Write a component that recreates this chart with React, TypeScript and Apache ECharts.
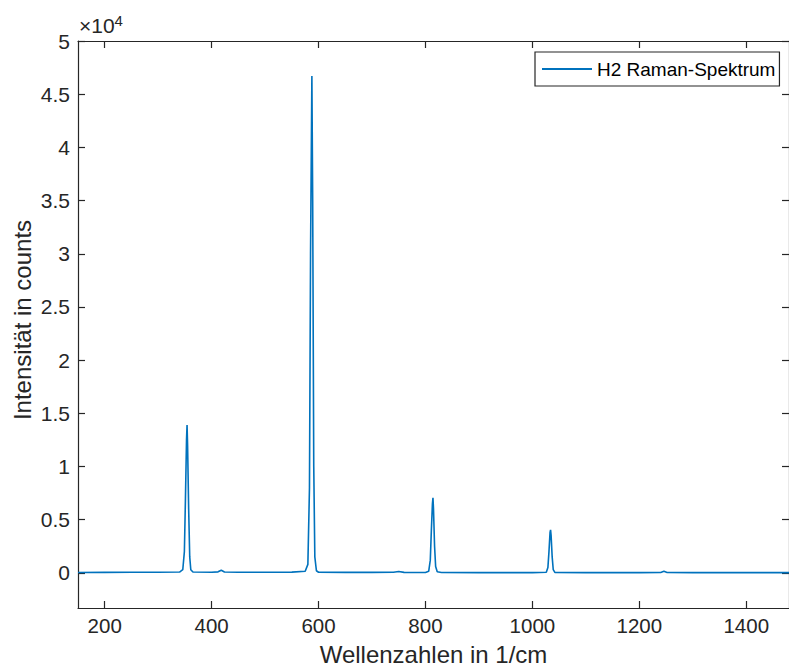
import React, { useEffect, useRef } from "react";
import * as echarts from "echarts";

// Raman spectrum of H2
const wavenumbers = [
  150, 200, 250, 300, 340, 346, 349, 351, 353, 354, 355, 357, 359, 361, 365,
  400, 412, 418, 424, 450, 500, 550, 575, 580, 583, 585, 587.5, 589, 591, 593, 596,
  600, 650, 700, 740, 750, 760, 800, 806, 809, 811, 813, 814, 815, 817, 819, 822,
  830, 900, 1000, 1026, 1029, 1031, 1033, 1034, 1035, 1037, 1039, 1042, 1100,
  1200, 1240, 1246, 1252, 1300, 1400, 1480,
];
const intensities = [
  40, 50, 60, 60, 80, 300, 2000, 7000, 12500, 13900, 12000, 6000, 1500, 300, 80,
  60, 100, 250, 90, 60, 60, 70, 150, 800, 8000, 30000, 46700, 35000, 10000, 1500, 200,
  60, 50, 50, 60, 130, 50, 40, 150, 1200, 4000, 6500, 7050, 6000, 2500, 600, 100,
  40, 30, 30, 60, 500, 2000, 3800, 4050, 3500, 1500, 300, 40, 30,
  30, 40, 150, 40, 30, 30, 30,
];
const xTicks = [200, 400, 600, 800, 1000, 1200, 1400];
const yTicks = [0, 5000, 10000, 15000, 20000, 25000, 30000, 35000, 40000, 45000, 50000];
const seriesName = "H2 Raman-Spektrum";

const FONT = "Liberation Sans, Helvetica, Arial, sans-serif";
const AX = "#262626";

export default function App() {
  const ref = useRef<HTMLDivElement>(null);
  useEffect(() => {
    if (!ref.current) return;
    const chart = echarts.init(ref.current, undefined, { renderer: "svg" });
    const data = wavenumbers.map((w, i) => [w, intensities[i]]);
    const axisLine = { show: true, onZero: false, lineStyle: { color: AX, width: 1.2 } };
    const tick = (vals: number[]) => ({
      show: true,
      inside: true,
      length: 7,
      customValues: vals,
      lineStyle: { color: AX, width: 1.2 },
    });
    chart.setOption({
      animation: false,
      backgroundColor: "#ffffff",
      textStyle: { fontFamily: FONT },
      grid: { left: 78, right: -2, top: 41, bottom: 51, containLabel: false },
      legend: {
        show: true,
        data: [{ name: seriesName, icon: "rect" }],
        left: 535,
        top: 52,
        padding: [7, 4, 7, 7],
        itemWidth: 50,
        itemHeight: 2,
        backgroundColor: "#ffffff",
        borderColor: AX,
        borderWidth: 1.2,
        borderRadius: 0,
        textStyle: { fontSize: 19, color: "#000000", fontFamily: FONT, lineHeight: 20 },
      },
      xAxis: [
        {
          type: "value",
          min: 150,
          max: 1480,
          position: "bottom",
          name: "Wellenzahlen in 1/cm",
          nameLocation: "middle",
          nameGap: 34,
          nameTextStyle: { fontSize: 24, color: AX, fontFamily: FONT },
          axisLine,
          axisTick: tick(xTicks),
          axisLabel: {
            show: true,
            customValues: xTicks,
            margin: 7,
            fontSize: 20.5,
            color: AX,
            fontFamily: FONT,
            formatter: (v: number) => String(v),
          },
          splitLine: { show: false },
        },
        {
          type: "value",
          min: 150,
          max: 1480,
          position: "top",
          axisLine,
          axisTick: tick(xTicks),
          axisLabel: { show: false },
          splitLine: { show: false },
        },
      ],
      yAxis: [
        {
          type: "value",
          min: -3300,
          max: 50000,
          position: "left",
          axisLine,
          axisTick: tick(yTicks),
          axisLabel: {
            show: true,
            customValues: yTicks,
            margin: 8,
            fontSize: 21,
            color: AX,
            fontFamily: FONT,
            formatter: (v: number) => String(v / 10000),
          },
          splitLine: { show: false },
        },
        {
          type: "value",
          min: -3300,
          max: 50000,
          position: "right",
          axisLine,
          axisTick: tick(yTicks),
          axisLabel: { show: false },
          splitLine: { show: false },
        },
      ],
      graphic: [
        {
          type: "text",
          left: 79,
          top: 13,
          style: {
            text: "×10{sup|4}",
            fontSize: 21,
            fill: AX,
            fontFamily: FONT,
            rich: { sup: { fontSize: 15, fill: AX, fontFamily: FONT, verticalAlign: "top", padding: [0, 0, 10, 0] } },
          },
        },
        {
          type: "text",
          x: 22,
          y: 320,
          rotation: Math.PI / 2,
          style: {
            text: "Intensität in counts",
            fontSize: 24,
            fill: AX,
            fontFamily: FONT,
            align: "center",
            verticalAlign: "middle",
          },
        },
      ],
      series: [
        {
          name: seriesName,
          type: "line",
          xAxisIndex: 0,
          yAxisIndex: 0,
          data,
          showSymbol: false,
          symbol: "none",
          smooth: false,
          lineStyle: { color: "#0072BD", width: 1.6 },
          itemStyle: { color: "#0072BD" },
        },
      ],
    });
    return () => chart.dispose();
  }, []);
  return (
    <div
      ref={ref}
      style={{ position: "absolute", left: 0, top: 0, width: 789, height: 671, background: "#fff" }}
    />
  );
}
